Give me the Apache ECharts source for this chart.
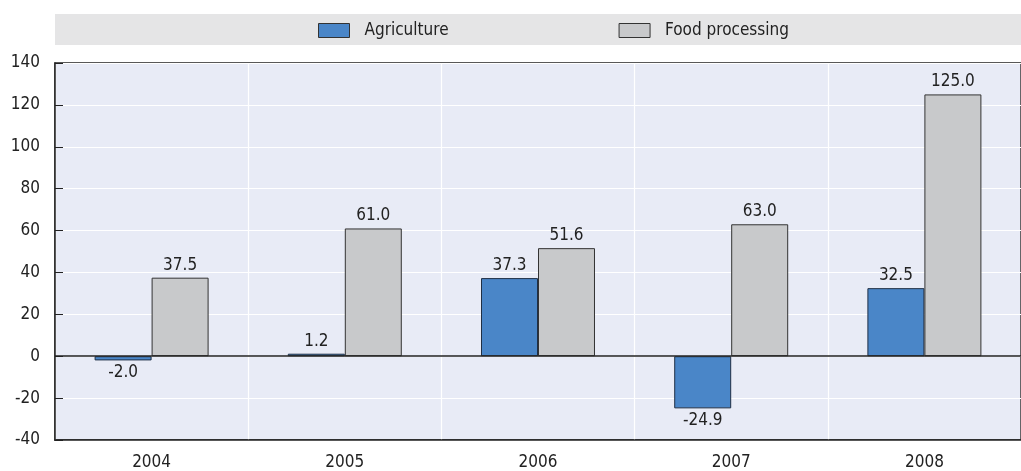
<!DOCTYPE html>
<html>
<head>
<meta charset="utf-8">
<script src="https://cdn.jsdelivr.net/npm/echarts@6/dist/echarts.min.js"></script>
<style>
html, body { margin: 0; padding: 0; background: #fff; }
#chart { width: 1021px; height: 471px; }
</style>
</head>
<body>
<div id="chart"></div>
<script>
var years = ['2004', '2005', '2006', '2007', '2008'];
var agriculture = [-2.0, 1.2, 37.3, -24.9, 32.5];
var foodProcessing = [37.5, 61.0, 51.6, 63.0, 125.0];
var yTicks = { min: -40, max: 140, interval: 20 };

var FONT = "'Liberation Sans Narrow', 'DejaVu Sans Condensed', sans-serif";
var FS = 17;

function withLabels(arr) {
	return arr.map(function (v) {
		return { value: v, label: { position: v < 0 ? 'bottom' : 'top' } };
	});
}

var chart = echarts.init(document.getElementById('chart'));
var option = {
	animation: false,
	textStyle: { fontFamily: FONT },
	graphic: [{
		type: 'rect',
		shape: { x: 55, y: 14, width: 966, height: 31 },
		style: { fill: '#e5e5e6' },
		z: -10
	}],
	legend: {
		left: 318,
		top: 22,
		padding: 0,
		itemWidth: 31,
		itemHeight: 14,
		itemGap: 170,
		icon: 'rect',
		itemStyle: { borderWidth: 1, borderColor: '#333' },
		textStyle: { fontFamily: FONT, fontSize: FS, color: '#222', padding: [0, 0, 0, 10] },
		data: ['Agriculture', 'Food processing']
	},
	grid: {
		left: 55, right: 0, top: 63, bottom: 30,
		show: true,
		backgroundColor: '#e8ebf6',
		borderColor: '#222',
		borderWidth: 1.5
	},
	xAxis: {
		type: 'category',
		data: years,
		axisLine: { onZero: false, lineStyle: { color: '#222', width: 1.5 } },
		axisTick: { inside: true, length: 8, lineStyle: { color: '#222' } },
		splitLine: { show: true, lineStyle: { color: '#fff', width: 1.2 } },
		axisLabel: { fontFamily: FONT, fontSize: FS, color: '#222', margin: 14 }
	},
	yAxis: {
		type: 'value',
		min: yTicks.min,
		max: yTicks.max,
		interval: yTicks.interval,
		axisLine: { show: true, lineStyle: { color: '#222', width: 1.5 } },
		axisTick: { show: true, inside: true, length: 8, lineStyle: { color: '#222' } },
		splitLine: { lineStyle: { color: '#fff', width: 1.2 } },
		axisLabel: { fontFamily: FONT, fontSize: FS, color: '#222', margin: 15 }
	},
	series: [{
		name: 'Agriculture',
		type: 'bar',
		data: withLabels(agriculture),
		barGap: '0%',
		barCategoryGap: '41%',
		itemStyle: { color: '#4a86c8', borderColor: '#1f2f45', borderWidth: 1 },
		label: {
			show: true, distance: 4, fontFamily: FONT, fontSize: FS, color: '#222',
			formatter: function (p) { return p.value.toFixed(1); }
		},
		markLine: {
			silent: true,
			symbol: 'none',
			label: { show: false },
			lineStyle: { color: '#222', width: 1.5, type: 'solid' },
			data: [{ yAxis: 0 }]
		}
	}, {
		name: 'Food processing',
		type: 'bar',
		data: withLabels(foodProcessing),
		itemStyle: { color: '#c8c9cb', borderColor: '#333', borderWidth: 1 },
		label: {
			show: true, distance: 4, fontFamily: FONT, fontSize: FS, color: '#222',
			formatter: function (p) { return p.value.toFixed(1); }
		}
	}]
};
chart.setOption(option);
</script>
</body>
</html>
